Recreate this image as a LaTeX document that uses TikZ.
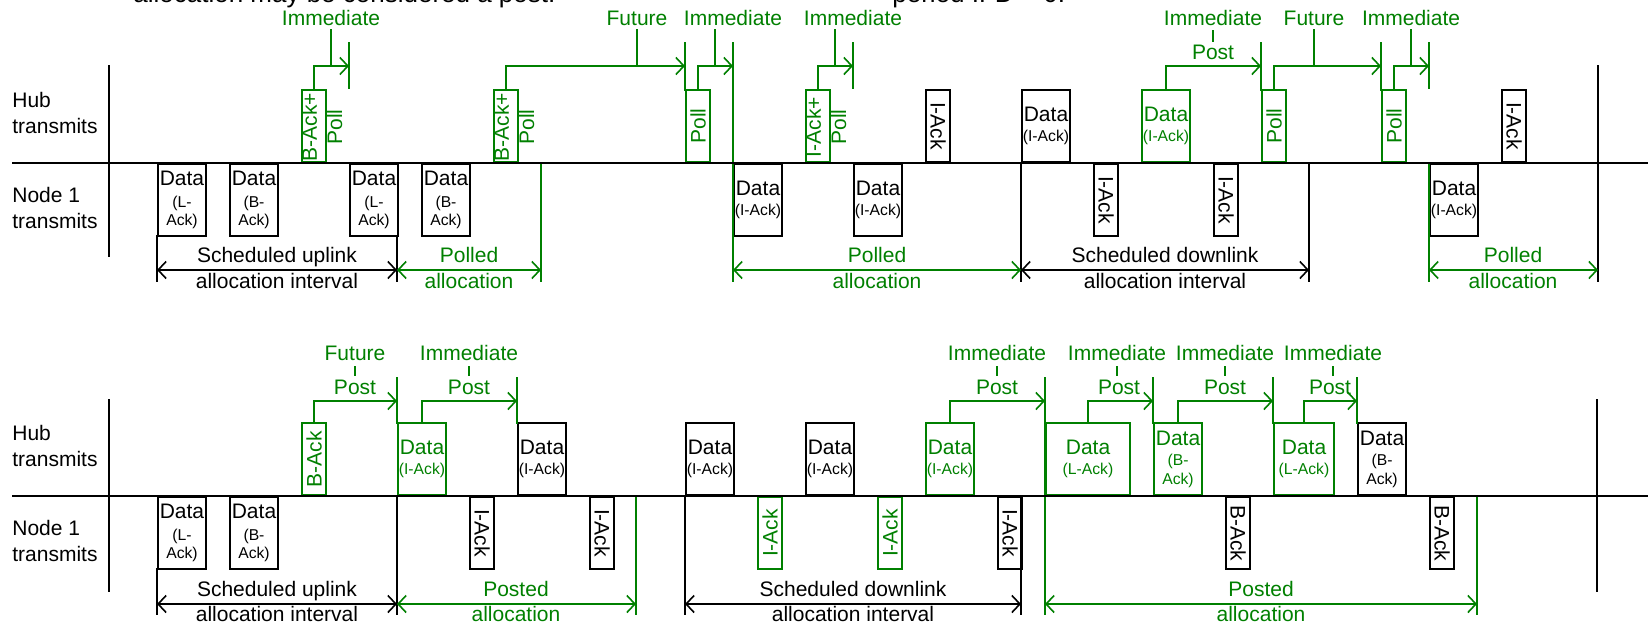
\documentclass[tikz,border=0pt]{standalone}
\usepackage{fontspec}
\setmainfont{Liberation Sans}
\usepackage{graphicx}
\usetikzlibrary{arrows.meta}
\definecolor{vg}{RGB}{0,128,0}
\newcommand\myfm{\fontsize{10.5pt}{11pt}\selectfont}
\newcommand\myfs{\fontsize{7.85pt}{8.85pt}\selectfont}
\newcommand\myfl{\fontsize{10.5pt}{12.6pt}\selectfont}
\newcommand\myft{\fontsize{13pt}{15pt}\selectfont}
\newcommand\rup[1]{\rotatebox{90}{#1}}
\newcommand\rdn[1]{\rotatebox{-90}{#1}}
\newcommand\dII{Data\\[-1pt]{\myfs(I-Ack)}}
\newcommand\dLA{Data\\[-1pt]{\myfs(L-Ack)}}
\newcommand\dLthree{Data\\{\myfs(L-}\\[-2.2pt]{\myfs Ack)}}
\newcommand\dBthree{Data\\{\myfs(B-}\\[-2.2pt]{\myfs Ack)}}
\newcommand\dBhub{Data\\[-0.8pt]{\myfs(B-}\\[-1.7pt]{\myfs Ack)}}
\begin{document}
\begin{tikzpicture}[x=0.5pt,y=-0.5pt,
  >={Straight Barb[length=4pt,width=8.5pt]},
  bx/.style={draw=black, line width=1pt, inner sep=0pt, minimum height=36pt, align=center, font=\myfm},
  hubbx/.style={bx, anchor=south west},
  ndbx/.style={bx, anchor=north west},
  gbx/.style={draw=vg, text=vg},
  wD/.style={minimum width=24pt},
  wN/.style={minimum width=12pt},
  lbl/.style={inner sep=0pt, font=\myfl, text=vg, anchor=base},
  two/.style={inner sep=0pt, font=\myfl, align=center},
  rtxt/.style={inner sep=0pt, font=\myfl, align=center, rotate=90, text=vg},
  side/.style={inner sep=0pt, font=\myfl, align=left, anchor=west},
  gl/.style={draw=vg, line width=0.8pt},
  bl/.style={draw=black, line width=0.8pt},
  axis/.style={draw=black, line width=0.85pt},
  thick/.style={draw=black, line width=1.4pt},
  clipt/.style={inner sep=0pt, font=\myft, anchor=base west}
]
\fill[white] (0,0) rectangle (1648,627);
\useasboundingbox (0,0) rectangle (1648,627);

% clipped caption remnants
\node[clipt] (capA) at (133,2) {allocation may be considered a post.};
\node[clipt] (capB) at (892,2) {period IFD = 0.};

% ================= TOP =================
\node[side] (hubA) at (12,112.9) {Hub\\transmits};
\node[side] (nodA) at (12,207.9) {Node 1\\transmits};
\path[axis] (12,163) coordinate (ax1s) -- (1648,163) coordinate (ax1e);
\path[thick] (109,65) coordinate (lv1a) -- (109,257) coordinate (lv1b);
\path[thick] (1598,65) coordinate (rv1a) -- (1598,257) coordinate (rv1b);

% hub boxes
\node[hubbx,wN,gbx] (h1) at (301,163) {};
\node[hubbx,wN,gbx] (h2) at (493,163) {};
\node[hubbx,wN,gbx] (h3) at (685,163) {\rup{Poll}};
\node[hubbx,wN,gbx] (h4) at (805,163) {};
\node[hubbx,wN] (h5) at (925,163) {\rdn{I-Ack}};
\node[hubbx,wD] (h6) at (1021,163) {\dII};
\node[hubbx,wD,gbx] (h7) at (1141,163) {\dII};
\node[hubbx,wN,gbx] (h8) at (1261,163) {\rup{Poll}};
\node[hubbx,wN,gbx] (h9) at (1381,163) {\rup{Poll}};
\node[hubbx,wN] (h10) at (1501,163) {\rdn{I-Ack}};
\node[rtxt] (h1t) at (322,127) {B-Ack+\\Poll};
\node[rtxt] (h2t) at (514,127) {B-Ack+\\Poll};
\node[rtxt] (h4t) at (826,127) {I-Ack+\\Poll};

% node boxes
\node[ndbx,wD] (n1) at (157,163) {\dLthree};
\node[ndbx,wD] (n2) at (229,163) {\dBthree};
\node[ndbx,wD] (n3) at (349,163) {\dLthree};
\node[ndbx,wD] (n4) at (421,163) {\dBthree};
\node[ndbx,wD] (n5) at (733,163) {\dII};
\node[ndbx,wD] (n6) at (853,163) {\dII};
\node[ndbx,wN] (n7) at (1093,163) {\rdn{I-Ack}};
\node[ndbx,wN] (n8) at (1213,163) {\rdn{I-Ack}};
\node[ndbx,wD] (n9) at (1429,163) {\dII};

% hub ack arrows (top)
\coordinate (k1) at (349,66); \coordinate (k2) at (685,66); \coordinate (k3) at (733,66);
\coordinate (k4) at (853,66); \coordinate (k5) at (1261,66); \coordinate (k6) at (1381,66);
\coordinate (k7) at (1429,66);
\draw[gl,->] (h1.north) |- (k1);
\draw[gl,->] (h2.north) |- (k2);
\draw[gl,->] (h3.north) |- (k3);
\draw[gl,->] (h4.north) |- (k4);
\draw[gl,->] (h7.north) |- (k5);
\draw[gl,->] (h8.north) |- (k6);
\draw[gl,->] (h9.north) |- (k7);
% ticks
\draw[gl] (349,42) -- (349,89);
\draw[gl] (685,42) -- (685,91);
\draw[gl] (733,42) -- (733,282);
\draw[gl] (853,42) -- (853,89);
\draw[gl] (1261,42) -- (1261,91);
\draw[gl] (1381,42) -- (1381,91);
\draw[gl] (1429,42) -- (1429,89);
% labels
\node[lbl] (t1) at (331,25) {Immediate}; \draw[gl] (331,29) -- (331,66);
\node[lbl] (t2) at (637,25) {Future}; \draw[gl] (637,29) -- (637,66);
\node[lbl] (t3) at (733,25) {Immediate}; \draw[gl] (715,29) -- (715,66);
\node[lbl] (t4) at (853,25) {Immediate}; \draw[gl] (835,29) -- (835,66);
\node[lbl] (t5) at (1213,25) {Immediate}; \draw[gl] (1213,30) -- (1213,42);
\node[lbl] (t5p) at (1213,59.3) {Post};
\node[lbl] (t6) at (1314,25) {Future}; \draw[gl] (1314,29) -- (1314,66);
\node[lbl] (t7) at (1411,25) {Immediate}; \draw[gl] (1411,29) -- (1411,66);

% allocations (top)
\draw[bl] (157,235) -- (157,282);
\draw[bl] (397,235) -- (397,282);
\draw[gl] (541,163) -- (541,282);
\draw[bl] (1021,163) -- (1021,282);
\draw[bl] (1309,163) -- (1309,282);
\draw[gl] (1429,163) -- (1429,282);
\draw[bl] (1598,257) -- (1598,282);
\draw[bl,<->] (157,270) -- (397,270);
\draw[gl,<->] (397,270) -- (541,270);
\draw[gl,<->] (733,270) -- (1021,270);
\draw[bl,<->] (1021,270) -- (1309,270);
\draw[gl,<->] (1429,270) -- (1598,270);
\node[two] (s1) at (277,267.9) {Scheduled uplink\\allocation interval};
\node[two,text=vg] (p1) at (469,267.9) {Polled\\allocation};
\node[two,text=vg] (p2) at (877,267.9) {Polled\\allocation};
\node[two] (s2) at (1165,267.9) {Scheduled downlink\\allocation interval};
\node[two,text=vg] (p3) at (1513,267.9) {Polled\\allocation};

% ================= BOTTOM =================
\node[side] (hubB) at (12,446) {Hub\\transmits};
\node[side] (nodB) at (12,541) {Node 1\\transmits};
\path[axis] (12,496) coordinate (ax2s) -- (1648,496) coordinate (ax2e);
\path[thick] (109,399) coordinate (lv2a) -- (109,592) coordinate (lv2b);
\path[thick] (1597,399) coordinate (rv2a) -- (1597,592) coordinate (rv2b);

% hub boxes
\node[hubbx,wN,gbx] (g1) at (301,496) {\rup{B-Ack}};
\node[hubbx,wD,gbx] (g2) at (397,496) {\dII};
\node[hubbx,wD] (g3) at (517,496) {\dII};
\node[hubbx,wD] (g4) at (685,496) {\dII};
\node[hubbx,wD] (g5) at (805,496) {\dII};
\node[hubbx,wD,gbx] (g6) at (925,496) {\dII};
\node[hubbx,minimum width=42pt,gbx] (g7) at (1045,496) {\dLA};
\node[hubbx,wD,gbx] (g8) at (1153,496) {\dBhub};
\node[hubbx,minimum width=30pt,gbx] (g9) at (1273,496) {\dLA};
\node[hubbx,wD] (g10) at (1357,496) {\dBhub};

% node boxes
\node[ndbx,wD] (m1) at (157,496) {\dLthree};
\node[ndbx,wD] (m2) at (229,496) {\dBthree};
\node[ndbx,wN] (m3) at (469,496) {\rdn{I-Ack}};
\node[ndbx,wN] (m4) at (589,496) {\rdn{I-Ack}};
\node[ndbx,wN,gbx] (m5) at (757,496) {\rup{I-Ack}};
\node[ndbx,wN,gbx] (m6) at (877,496) {\rup{I-Ack}};
\node[ndbx,wN] (m7) at (997,496) {\rdn{I-Ack}};
\node[ndbx,wN] (m8) at (1225,496) {\rdn{B-Ack}};
\node[ndbx,wN] (m9) at (1429,496) {\rdn{B-Ack}};

% post arrows
\coordinate (q1) at (397,401); \coordinate (q2) at (517,401); \coordinate (q3) at (1045,401);
\coordinate (q4) at (1153,401); \coordinate (q5) at (1273,401); \coordinate (q6) at (1357,401);
\draw[gl,->] (g1.north) |- (q1);
\draw[gl,->] (g2.north) |- (q2);
\draw[gl,->] (g6.north) |- (q3);
\draw[gl,->] (g7.north) |- (q4);
\draw[gl,->] (g8.north) |- (q5);
\draw[gl,->] (g9.north) |- (q6);
\draw[gl] (397,377) -- (397,424);
\draw[gl] (517,377) -- (517,424);
\draw[gl] (1045,377) -- (1045,615);
\draw[gl] (1153,377) -- (1153,424);
\draw[gl] (1273,377) -- (1273,424);
\draw[gl] (1357,377) -- (1357,424);
\node[lbl] (u1) at (355,360) {Future}; \draw[gl] (355,366) -- (355,376); \node[lbl] (u1p) at (355,394) {Post};
\node[lbl] (u2) at (469,360) {Immediate}; \draw[gl] (469,366) -- (469,376); \node[lbl] (u2p) at (469,394) {Post};
\node[lbl] (u3) at (997,360) {Immediate}; \draw[gl] (997,366) -- (997,376); \node[lbl] (u3p) at (997,394) {Post};
\node[lbl] (u4) at (1117,360) {Immediate}; \draw[gl] (1117,366) -- (1117,376); \node[lbl] (u4p) at (1119,394) {Post};
\node[lbl] (u5) at (1225,360) {Immediate}; \draw[gl] (1225,366) -- (1225,376); \node[lbl] (u5p) at (1225,394) {Post};
\node[lbl] (u6) at (1333,360) {Immediate}; \draw[gl] (1333,366) -- (1333,376); \node[lbl] (u6p) at (1330,394) {Post};

% allocations (bottom)
\draw[bl] (157,568) -- (157,615);
\draw[bl] (397,496) -- (397,615);
\draw[gl] (636,496) -- (636,615);
\draw[bl] (685,496) -- (685,615);
\draw[bl] (1021,496) -- (1021,615);
\draw[gl] (1477,496) -- (1477,615);
\draw[bl,<->] (157,604) -- (397,604);
\draw[gl,<->] (397,604) -- (636,604);
\draw[bl,<->] (685,604) -- (1021,604);
\draw[gl,<->] (1045,604) -- (1477,604);
\node[two] (s3) at (277,601.5) {Scheduled uplink\\allocation interval};
\node[two,text=vg] (p4) at (516,601.5) {Posted\\allocation};
\node[two] (s4) at (853,601.5) {Scheduled downlink\\allocation interval};
\node[two,text=vg] (p5) at (1261,601.5) {Posted\\allocation};

% axes and frame lines on top
\draw[axis] (ax1s) -- (ax1e);
\draw[axis] (ax2s) -- (ax2e);
\draw[thick] (lv1a) -- (lv1b);
\draw[thick] (rv1a) -- (rv1b);
\draw[thick] (lv2a) -- (lv2b);
\draw[thick] (rv2a) -- (rv2b);
\end{tikzpicture}
\end{document}
